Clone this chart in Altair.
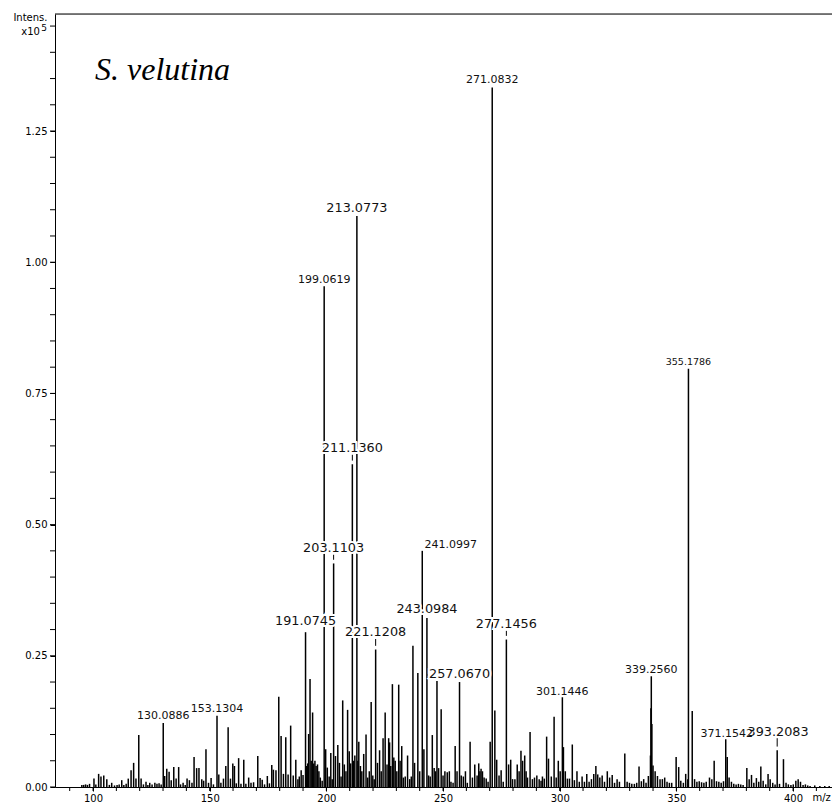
import altair as alt
import pandas as pd

# ---- peak list (m/z, intensity in units of 1e5) ----
peaks_090_130 = [
    (95.2, 0.004), (96.0, 0.004), (96.8, 0.005), (97.6, 0.004), (98.5, 0.006),
    (100.4, 0.016), (101.2, 0.005), (102.4, 0.025), (103.4, 0.020), (104.6, 0.022),
    (105.9, 0.015), (107.0, 0.004), (108.0, 0.008), (109.2, 0.003), (110.3, 0.004),
    (111.2, 0.005), (112.3, 0.013), (113.2, 0.004), (114.2, 0.006), (115.1, 0.016),
    (116.3, 0.032), (117.4, 0.046), (118.4, 0.016), (119.6, 0.099), (120.6, 0.016),
    (121.6, 0.005), (122.7, 0.010), (123.5, 0.004), (124.3, 0.008), (125.3, 0.005),
    (126.5, 0.008), (127.4, 0.006), (128.3, 0.007), (129.2, 0.005),
]
peaks_130_190 = [
    (130.7, 0.021), (131.6, 0.035), (132.6, 0.029), (133.5, 0.013), (134.6, 0.038),
    (135.6, 0.016), (136.7, 0.038), (137.5, 0.005), (138.6, 0.008), (139.5, 0.004),
    (140.3, 0.016), (141.3, 0.013), (142.4, 0.008), (143.3, 0.057), (144.4, 0.036),
    (145.4, 0.036), (146.6, 0.015), (147.4, 0.012), (148.4, 0.072), (149.5, 0.008),
    (150.6, 0.017), (151.6, 0.005), (153.9, 0.024), (154.8, 0.008), (155.9, 0.016),
    (156.9, 0.040), (157.9, 0.114), (158.9, 0.016), (159.9, 0.045), (160.6, 0.040),
    (161.4, 0.007), (162.4, 0.055), (163.4, 0.006), (164.6, 0.052), (165.5, 0.006),
    (166.7, 0.018), (167.7, 0.008), (168.8, 0.009), (170.6, 0.059), (171.6, 0.017),
    (172.5, 0.014), (173.5, 0.005), (174.7, 0.021), (175.6, 0.007), (176.6, 0.042),
    (177.3, 0.033), (178.4, 0.032), (179.6, 0.172), (180.6, 0.097), (181.6, 0.025),
    (182.6, 0.095), (183.6, 0.024), (184.7, 0.117), (185.8, 0.022), (186.9, 0.052),
    (187.8, 0.015), (188.4, 0.020), (189.2, 0.032), (190.0, 0.023),
]
peaks_190_250 = [
    (191.5, 0.040), (192.0, 0.045), (192.4, 0.101), (193.0, 0.206), (193.5, 0.050),
    (194.1, 0.142), (194.6, 0.045), (195.1, 0.050), (195.6, 0.040), (196.2, 0.043),
    (196.8, 0.030), (197.4, 0.018), (198.2, 0.012), (199.7, 0.072), (200.4, 0.037),
    (201.2, 0.020), (201.9, 0.065), (202.5, 0.015), (203.9, 0.059), (204.9, 0.080),
    (205.6, 0.046), (206.3, 0.020), (207.0, 0.165), (207.7, 0.043), (208.4, 0.030),
    (209.1, 0.147), (209.8, 0.068), (210.4, 0.045), (211.7, 0.050), (212.2, 0.060),
    (213.5, 0.050), (213.9, 0.086), (214.6, 0.040), (215.2, 0.030), (216.0, 0.063),
    (217.0, 0.100), (217.7, 0.018), (218.4, 0.030), (219.2, 0.162), (219.9, 0.022),
    (220.5, 0.015), (221.9, 0.046), (222.8, 0.070), (223.5, 0.030), (224.3, 0.093),
    (225.2, 0.142), (226.0, 0.043), (226.7, 0.093), (227.1, 0.085), (227.6, 0.040),
    (228.3, 0.196), (228.9, 0.056), (229.5, 0.050), (230.2, 0.030), (231.0, 0.195),
    (231.6, 0.050), (232.3, 0.078), (233.0, 0.018), (233.8, 0.020), (234.8, 0.060),
    (235.7, 0.015), (236.4, 0.020), (237.1, 0.269), (237.8, 0.046), (239.2, 0.217),
    (240.0, 0.030), (241.8, 0.072), (243.8, 0.022), (244.5, 0.020), (245.4, 0.099),
    (246.2, 0.036), (246.8, 0.030), (247.4, 0.202), (248.1, 0.036), (249.2, 0.148),
]
peaks_250_310 = [
    (250.0, 0.022), (250.8, 0.030), (251.8, 0.028), (252.7, 0.030), (253.4, 0.010),
    (254.3, 0.008), (255.2, 0.078), (256.0, 0.030), (257.8, 0.022), (258.7, 0.020),
    (259.6, 0.030), (260.4, 0.008), (261.6, 0.086), (262.6, 0.018), (263.6, 0.043),
    (264.6, 0.022), (265.3, 0.045), (265.8, 0.030), (266.3, 0.035), (266.9, 0.030),
    (267.6, 0.018), (268.5, 0.016), (269.3, 0.010), (270.2, 0.086), (272.2, 0.146),
    (273.0, 0.052), (274.0, 0.022), (274.9, 0.032), (275.8, 0.010), (278.1, 0.043),
    (279.0, 0.052), (279.8, 0.015), (280.8, 0.015), (281.8, 0.043), (282.6, 0.030),
    (283.4, 0.069), (284.1, 0.050), (285.0, 0.060), (285.6, 0.030), (286.2, 0.018),
    (287.3, 0.105), (288.3, 0.015), (289.2, 0.018), (290.2, 0.022), (291.2, 0.015),
    (292.0, 0.012), (292.6, 0.020), (293.4, 0.016), (294.4, 0.096), (295.2, 0.054),
    (296.4, 0.020), (297.6, 0.134), (298.5, 0.018), (299.4, 0.050), (300.2, 0.030),
    (301.6, 0.076), (302.4, 0.030), (303.3, 0.016), (304.2, 0.016), (305.4, 0.081),
    (306.3, 0.013), (307.4, 0.030), (308.4, 0.010), (309.6, 0.020),
]
peaks_310_420 = [
    (310.6, 0.010), (311.6, 0.025), (312.6, 0.010), (313.6, 0.015), (314.6, 0.025),
    (315.5, 0.040), (316.3, 0.024), (317.2, 0.018), (318.2, 0.022), (319.2, 0.010),
    (320.4, 0.030), (321.4, 0.018), (322.5, 0.023), (323.5, 0.008), (324.6, 0.015),
    (325.6, 0.010), (327.9, 0.064), (328.9, 0.010), (329.9, 0.008), (330.9, 0.006),
    (332.0, 0.006), (333.0, 0.008), (334.0, 0.039), (335.0, 0.011), (336.0, 0.015),
    (337.0, 0.008), (338.0, 0.021), (338.9, 0.060), (339.1, 0.150), (339.5, 0.120),
    (340.0, 0.041), (340.9, 0.030), (341.9, 0.021), (343.0, 0.015), (344.0, 0.015),
    (345.0, 0.018), (346.0, 0.010), (347.0, 0.008), (348.0, 0.008), (349.9, 0.057),
    (351.0, 0.038), (351.9, 0.012), (353.0, 0.008), (354.0, 0.025), (354.9, 0.015),
    (356.8, 0.145), (357.8, 0.015), (358.8, 0.010), (359.8, 0.011), (360.8, 0.009),
    (361.8, 0.008), (362.8, 0.010), (364.2, 0.018), (365.2, 0.015), (366.2, 0.050),
    (367.2, 0.011), (368.2, 0.010), (369.2, 0.008), (370.2, 0.011), (371.8, 0.057),
    (372.6, 0.018), (373.6, 0.010), (374.6, 0.006), (375.6, 0.005), (376.6, 0.006),
    (377.6, 0.005), (378.6, 0.004), (380.2, 0.036), (381.2, 0.015), (382.2, 0.023),
    (383.2, 0.008), (384.3, 0.017), (385.3, 0.010), (386.2, 0.039), (387.2, 0.012),
    (388.3, 0.005), (389.3, 0.025), (390.2, 0.015), (391.3, 0.008), (392.3, 0.005),
    (394.2, 0.006), (395.9, 0.053), (397.0, 0.008), (398.0, 0.005), (399.1, 0.004),
    (400.1, 0.005), (401.2, 0.012), (402.2, 0.015), (403.2, 0.010), (404.3, 0.004),
    (405.3, 0.005), (406.3, 0.003), (407.3, 0.002), (409.3, 0.003), (411.5, 0.002),
    (413.6, 0.002), (415.5, 0.002),
]

# ---- labelled peaks ----
lab_mz = [130.0886, 153.1304, 191.0745, 199.0619, 203.1103, 211.1360, 213.0773,
          221.1208, 241.0997, 243.0984, 257.0670, 271.0832, 277.1456, 301.1446,
          339.2560, 355.1786, 371.1542, 393.2083]
lab_int = [0.122, 0.136, 0.295, 0.954, 0.426, 0.615, 1.088,
           0.262, 0.450, 0.322, 0.200, 1.333, 0.281, 0.171,
           0.211, 0.797, 0.091, 0.070]
lab_x = [130.0886, 153.1304, 191.0745, 199.0619, 203.1103, 211.1360, 213.0773,
         221.1208, 253.3, 243.0984, 257.0670, 271.0832, 277.1456, 301.1446,
         339.2560, 355.1786, 371.6, 393.6]
lab_y = [0.129, 0.143, 0.308, 0.961, 0.4475, 0.638, 1.096,
         0.287, 0.455, 0.331, 0.207, 1.341, 0.3025, 0.175,
         0.217, 0.804, 0.095, 0.098]
lab_group = ["s", "s", "l", "s", "l", "l", "l",
             "l", "s", "l", "l", "s", "l", "s",
             "s", "xs", "s", "l"]

sample_name = "S. velutina"
x_major = [100, 150, 200, 250, 300, 350, 400]
x_minor = list(range(90, 420, 10))
y_major = [0.0, 0.25, 0.5, 0.75, 1.0, 1.25]
y_minor = [round(i * 0.05, 2) for i in range(0, 30)]

allpeaks = peaks_090_130 + peaks_130_190 + peaks_190_250 + peaks_250_310 + peaks_310_420
allpeaks += list(zip(lab_mz, lab_int))
df = pd.DataFrame(allpeaks, columns=["mz", "intensity"])

labels = pd.DataFrame({
    "mz": lab_mz, "intensity": lab_int, "lx": lab_x, "ly": lab_y,
    "text": [f"{m:.4f}" for m in lab_mz], "group": lab_group,
})
conn = labels[(labels["ly"] - labels["intensity"]) > 0.015].copy()
conn["y1"] = conn["intensity"] + 0.007
conn["y2"] = conn["ly"] - 0.005

W, H = 777, 773
XDOM = [83.7, 416.7]
YDOM = [0, 1.473]
FONT = "DejaVu Sans"

xscale = alt.Scale(domain=XDOM, nice=False, zero=False)
yscale = alt.Scale(domain=YDOM, nice=False, zero=True)

base_x = alt.X(
    "mz:Q", scale=xscale,
    axis=alt.Axis(
        values=x_major, format="d",
        tickSize=4, grid=False, domainColor="black", tickColor="black",
        labelColor="black", labelFont=FONT, labelFontSize=10, labelPadding=2,
        labelFlush=False, labelOverlap=False,
        title="m/z", titleFont=FONT, titleFontSize=10, titleFontWeight="normal",
        titleColor="black", titleAlign="left", titleX=757, titleY=13,
        titleBaseline="alphabetic",
    ),
)
base_y = alt.Y(
    "intensity:Q", scale=yscale,
    axis=alt.Axis(
        values=y_major, format=".2f",
        tickSize=5, grid=False, domainColor="black", tickColor="black",
        labelColor="black", labelFont=FONT, labelFontSize=10, labelPadding=3,
        labelOverlap=False, labelFlush=False,
        title="Intens.", titleFont=FONT, titleFontSize=10, titleFontWeight="normal",
        titleColor="black", titleAngle=0, titleAlign="right", titleX=-8, titleY=6,
        titleBaseline="alphabetic",
    ),
)

sticks = alt.Chart(df).mark_rule(color="black", strokeWidth=1.5).encode(
    x=base_x, y=base_y, y2=alt.datum(0)
)

xminor_layer = alt.Chart(pd.DataFrame({"t": x_minor})).mark_rule(
    color="black", strokeWidth=1
).encode(x=alt.X("t:Q", scale=xscale), y=alt.value(H), y2=alt.value(H + 4))
yminor_layer = alt.Chart(pd.DataFrame({"t": y_minor})).mark_rule(
    color="black", strokeWidth=1
).encode(y=alt.Y("t:Q", scale=yscale), x=alt.value(-5), x2=alt.value(0))

connectors = alt.Chart(conn).mark_rule(color="black", strokeWidth=1).encode(
    x=alt.X("mz:Q", scale=xscale),
    y=alt.Y("y1:Q", scale=yscale), y2="y2:Q"
)

size_map = {"xs": 9.5, "s": 11, "l": 12.8}
halos, texts = [], []
for g, fs in size_map.items():
    sub = labels[labels["group"] == g]
    enc = dict(
        x=alt.X("lx:Q", scale=xscale),
        y=alt.Y("ly:Q", scale=yscale),
        text="text:N",
    )
    halos.append(alt.Chart(sub).mark_text(
        font=FONT, fontSize=fs, align="center", baseline="alphabetic",
        color="white", stroke="white", strokeWidth=4,
    ).encode(**enc))
    texts.append(alt.Chart(sub).mark_text(
        font=FONT, fontSize=fs, align="center", baseline="alphabetic", color="#111",
    ).encode(**enc))

top_line = alt.Chart(pd.DataFrame({"a": [0]})).mark_rule(color="black", strokeWidth=1).encode(
    x=alt.value(0), x2=alt.value(W), y=alt.value(0)
)
exp_text = alt.Chart(pd.DataFrame({"t": ["x10"]})).mark_text(
    font=FONT, fontSize=10, align="right", baseline="alphabetic", color="black"
).encode(x=alt.value(-15), y=alt.value(21), text="t:N")
exp_sup = alt.Chart(pd.DataFrame({"t": ["5"]})).mark_text(
    font=FONT, fontSize=9, align="right", baseline="alphabetic", color="black"
).encode(x=alt.value(-8), y=alt.value(17), text="t:N")
name_text = alt.Chart(pd.DataFrame({"t": [sample_name]})).mark_text(
    font="Liberation Serif", fontSize=32, fontStyle="italic", align="left",
    baseline="alphabetic", color="black"
).encode(x=alt.value(40), y=alt.value(66), text="t:N")

chart = alt.layer(
    sticks, xminor_layer, yminor_layer, connectors, *halos, *texts,
    top_line, exp_text, exp_sup, name_text
).properties(
    width=W, height=H,
    autosize=alt.AutoSizeParams(type="none"),
    padding={"left": 47, "top": 6, "right": 0, "bottom": 15},
).configure_view(stroke=None).configure(background="white")

chart.save("out.html", embed_options={"renderer": "svg", "actions": False})
